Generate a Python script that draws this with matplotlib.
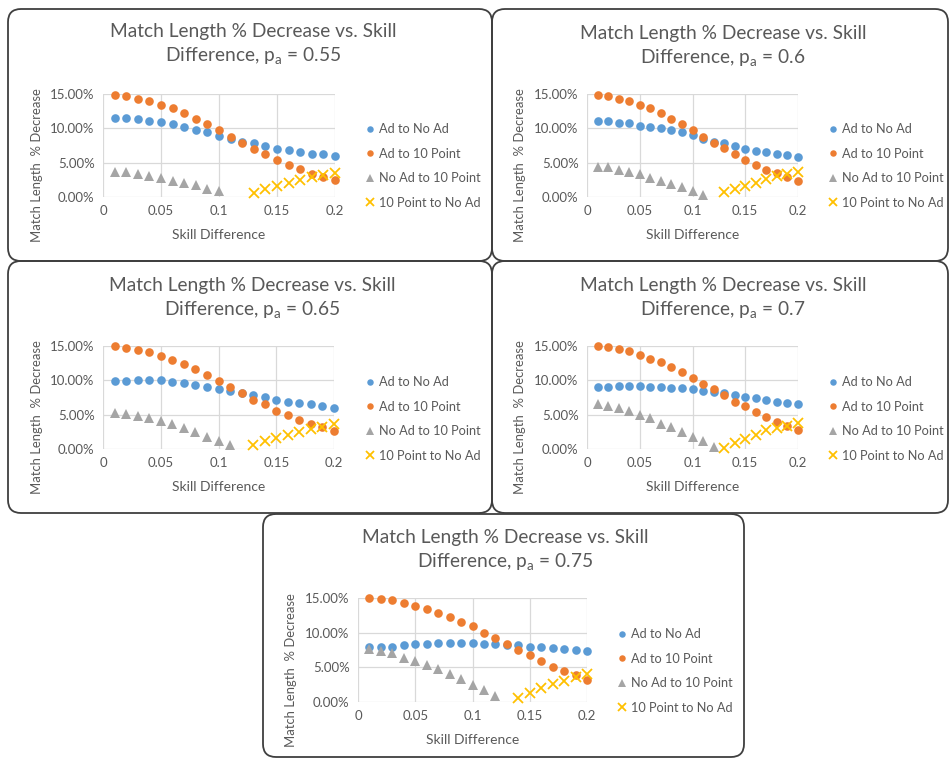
import matplotlib
matplotlib.use("Agg")
import matplotlib.pyplot as plt
from matplotlib.patches import FancyBboxPatch

plt.rcParams['font.family'] = ['Lato', 'DejaVu Sans']

W, H = 949, 760
skill = [0.01, 0.02, 0.03, 0.04, 0.05, 0.06, 0.07, 0.08, 0.09, 0.10,
         0.11, 0.12, 0.13, 0.14, 0.15, 0.16, 0.17, 0.18, 0.19, 0.20]

pa_values = ["0.55", "0.6", "0.65", "0.7", "0.75"]
series_names = ["Ad to No Ad", "Ad to 10 Point", "No Ad to 10 Point", "10 Point to No Ad"]

# Ad to No Ad (%), per panel
ad_noad = [
    [11.5, 11.5, 11.3, 11.1, 10.9, 10.6, 10.2, 9.7, 9.4, 8.9, 8.4, 8.0, 7.8, 7.4, 7.0, 6.8, 6.6, 6.3, 6.2, 5.9],
    [11.0, 11.0, 10.8, 10.8, 10.4, 10.2, 10.0, 9.7, 9.4, 9.0, 8.4, 8.0, 7.8, 7.4, 7.0, 6.7, 6.5, 6.3, 6.1, 5.8],
    [9.9, 9.9, 10.1, 10.0, 10.0, 9.8, 9.6, 9.3, 9.0, 8.8, 8.5, 8.1, 7.9, 7.6, 7.2, 6.9, 6.7, 6.5, 6.2, 6.0],
    [9.1, 9.1, 9.2, 9.2, 9.2, 9.1, 9.1, 8.9, 8.9, 8.7, 8.5, 8.3, 8.1, 7.8, 7.6, 7.4, 7.1, 6.9, 6.7, 6.5],
    [7.9, 7.9, 8.0, 8.2, 8.3, 8.3, 8.5, 8.5, 8.5, 8.5, 8.4, 8.4, 8.2, 8.2, 8.0, 7.9, 7.8, 7.6, 7.5, 7.3],
]
# Ad to 10 Point (%)
ad_10 = [
    [14.9, 14.7, 14.3, 14.0, 13.4, 12.9, 12.2, 11.3, 10.6, 9.7, 8.8, 7.9, 7.0, 6.3, 5.4, 4.7, 4.1, 3.4, 2.9, 2.5],
    [14.9, 14.7, 14.3, 14.0, 13.4, 12.9, 12.2, 11.4, 10.6, 9.7, 8.8, 7.9, 7.2, 6.3, 5.4, 4.7, 4.0, 3.5, 2.9, 2.4],
    [15.0, 14.7, 14.4, 14.1, 13.6, 13.0, 12.4, 11.6, 10.8, 9.9, 9.0, 8.1, 7.2, 6.5, 5.6, 4.9, 4.2, 3.7, 3.2, 2.6],
    [15.0, 14.8, 14.6, 14.3, 13.7, 13.1, 12.6, 11.9, 11.2, 10.3, 9.5, 8.7, 7.8, 6.8, 6.2, 5.4, 4.6, 4.0, 3.3, 2.7],
    [15.0, 14.9, 14.7, 14.3, 13.9, 13.4, 12.8, 12.3, 11.6, 10.9, 10.0, 9.3, 8.4, 7.5, 6.8, 5.9, 5.1, 4.5, 3.9, 3.2],
]
# No Ad to 10 Point (%), starting at skill 0.01
noad_10 = [
    [3.6, 3.6, 3.3, 3.1, 2.8, 2.4, 2.1, 1.7, 1.2, 0.9],
    [4.4, 4.3, 3.9, 3.7, 3.3, 2.8, 2.4, 1.9, 1.4, 0.9, 0.3],
    [5.3, 5.1, 4.8, 4.5, 4.1, 3.6, 3.0, 2.5, 1.8, 1.2, 0.6],
    [6.5, 6.3, 5.9, 5.5, 5.0, 4.5, 3.7, 3.2, 2.5, 1.8, 1.1, 0.3],
    [7.7, 7.4, 7.0, 6.4, 5.9, 5.3, 4.7, 4.0, 3.3, 2.4, 1.7, 0.8],
]
# 10 Point to No Ad (%), ending at skill 0.20
p10_noad = [
    [0.6, 1.2, 1.6, 2.1, 2.5, 2.9, 3.2, 3.5],
    [0.7, 1.2, 1.6, 2.1, 2.6, 3.0, 3.3, 3.6],
    [0.6, 1.1, 1.6, 2.1, 2.5, 2.9, 3.2, 3.6],
    [0.2, 0.9, 1.4, 2.1, 2.7, 3.1, 3.4, 3.8],
    [0.6, 1.3, 2.0, 2.6, 3.1, 3.6, 4.0],
]

xticks = [0, 0.05, 0.1, 0.15, 0.2]
xtick_labels = ["0", "0.05", "0.1", "0.15", "0.2"]
yticks = [0, 5, 10, 15]
ytick_labels = ["0.00%", "5.00%", "10.00%", "15.00%"]

colors = ["#5B9BD5", "#ED7D31", "#A5A5A5", "#FFC000"]
TXT = "#595959"

panels = [
    dict(box=(8, 9, 492, 261), plot=(103, 335, 94, 197), leg=(366, 123), title=(253, 31), ylab=37),
    dict(box=(492, 9, 948, 261), plot=(587, 798, 94, 197), leg=(829, 123), title=(723, 33), ylab=520),
    dict(box=(8, 261, 492, 513), plot=(103, 334, 346, 449), leg=(366, 376), title=(252, 285), ylab=37),
    dict(box=(492, 261, 948, 513), plot=(587, 798, 346, 449), leg=(829, 376), title=(723, 285), ylab=520),
    dict(box=(263, 514, 744, 757), plot=(358, 587, 598, 702), leg=(618, 628), title=(505, 537), ylab=291),
]

fig = plt.figure(figsize=(W / 100, H / 100), dpi=100)
fig.patch.set_facecolor("white")

def fx(px):
    return px / W

def fy(py):
    return 1 - py / H

for i, P in enumerate(panels):
    bx0, by0, bx1, by1 = P["box"]
    box = FancyBboxPatch((bx0 / 100, (H - by1) / 100), (bx1 - bx0) / 100, (by1 - by0) / 100,
                         boxstyle="round,pad=0,rounding_size=0.13",
                         transform=fig.dpi_scale_trans, facecolor="none",
                         edgecolor="#3F3F3F", linewidth=1.3, zorder=-1)
    fig.patches.append(box)

    x0, x1, yt, yb = P["plot"]
    ax = fig.add_axes([fx(x0), fy(yb), fx(x1) - fx(x0), (yb - yt) / H])
    ax.set_facecolor("none")
    ax.set_xlim(0, 0.2)
    ax.set_ylim(0, 15)
    for s in ax.spines.values():
        s.set_visible(False)
    for t in xticks:
        ax.axvline(t, color="#D9D9D9", lw=0.9, zorder=1)
    for t in yticks:
        ax.axhline(t, color="#D9D9D9", lw=0.9, zorder=1)
    ax.set_xticks(xticks)
    ax.set_xticklabels(xtick_labels)
    ax.set_yticks(yticks)
    ax.set_yticklabels(ytick_labels)
    ax.tick_params(length=0, labelsize=9.5, colors=TXT, pad=6)

    ms = 6.2
    ax.plot(skill, ad_noad[i], "o", color=colors[0], ms=ms, mew=0, clip_on=False, zorder=3, label=series_names[0])
    ax.plot(skill, ad_10[i], "o", color=colors[1], ms=ms, mew=0, clip_on=False, zorder=4, label=series_names[1])
    ax.plot(skill[:len(noad_10[i])], noad_10[i], "^", color=colors[2], ms=ms + 0.6, mew=0, clip_on=False, zorder=3, label=series_names[2])
    ax.plot(skill[-len(p10_noad[i]):], p10_noad[i], "x", color=colors[3], ms=ms + 0.8, mew=1.3, clip_on=False, zorder=5, label=series_names[3])

    lx, ly = P["leg"]
    ax.legend(loc="upper left", bbox_to_anchor=(fx(lx), fy(ly)), bbox_transform=fig.transFigure,
              frameon=False, fontsize=9.2, labelcolor=TXT, markerscale=0.75,
              handlelength=0.7, handletextpad=0.35, labelspacing=0.98, borderaxespad=0, borderpad=0)

    tx, ty = P["title"]
    fig.text(fx(tx), fy(ty), "Match Length % Decrease vs. Skill", ha="center", va="center",
             fontsize=13.8, color=TXT)
    fig.text(fx(tx), fy(ty + 25), "Difference, p$_\\mathregular{a}$ = " + pa_values[i], ha="center", va="center",
             fontsize=13.8, color=TXT)

    fig.text(fx(P["ylab"]), fy((yt + yb) / 2 + 20), "Match Length  % Decrease", rotation=90,
             ha="center", va="center", fontsize=9.4, color=TXT)
    fig.text(fx((x0 + x1) / 2), fy(yb + 38), "Skill Difference", ha="center", va="center",
             fontsize=10, color=TXT)

fig.savefig("out.png", dpi=100, facecolor="white")
